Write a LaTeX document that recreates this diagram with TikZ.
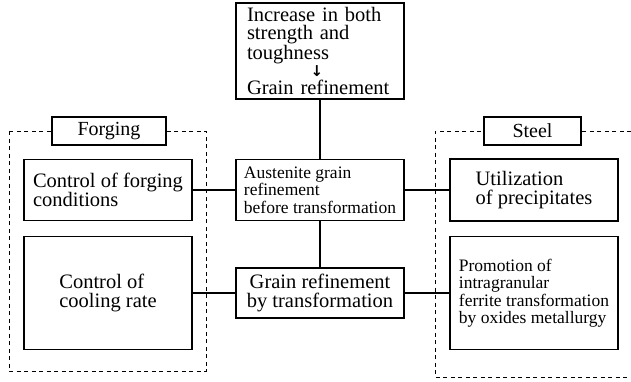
\documentclass[tikz,border=0pt]{standalone}
\usepackage{fontspec}
\setmainfont{Liberation Serif}
\newfontfamily\arrowfont{DejaVu Sans}

\tikzstyle{box}=[rectangle, draw, line width=1.2pt, minimum width=168pt, align=left, inner sep=2pt, font=\fontsize{20.5}{19}\selectfont]
\tikzstyle{smallbox}=[box, font=\fontsize{17.5}{17.5}\selectfont]
\tikzstyle{tag}=[rectangle, draw, line width=1.2pt, fill=white, minimum height=28pt, font=\fontsize{20}{20}\selectfont]
\tikzstyle{frame}=[line width=0.9pt, dash pattern=on 4pt off 3.5pt]

\begin{document}
\begin{tikzpicture}[x=1pt, y=-1pt]
\useasboundingbox (0,0) rectangle (631,381);

% dashed groups
\draw[frame] (9,131) rectangle (206,371);
\draw[frame] (631,131) -- (435,131) -- (435,377) -- (631,377);

\node[box, minimum height=96pt, text width=146pt, font=\fontsize{20.5}{17.5}\selectfont](goal) at (320,51) {Increase in both\\ strength and\\ toughness\\ \makebox[140pt]{\arrowfont\bfseries\fontsize{15}{15}\selectfont ↓}\\ Grain refinement};
\node[smallbox, minimum height=61pt](aust) at (320,190) {Austenite grain\\ refinement\\ before transformation};
\node[box, minimum height=50pt, align=center](grain) at (320,293) {Grain refinement\\ by transformation};

\node[tag, minimum width=114pt](forging) at (109,131) {Forging};
\node[tag, minimum width=97pt](steel) at (532.5,131) {Steel};

\node[box, minimum height=61pt](cond) at (108,190) {Control of forging\\ conditions};
\node[box, minimum height=113pt](cool) at (108,293) {Control of\\ cooling rate};
\node[box, minimum height=62pt](util) at (534,190) {Utilization\\ of precipitates};
\node[smallbox, minimum height=113pt](promo) at (534,293) {Promotion of\\ intragranular\\ ferrite transformation\\ by oxides metallurgy};

\begin{scope}[every path/.style={line width=1.2pt}]
       \draw (goal) -- (aust);
       \draw (aust) -- (grain);
       \draw (cond) -- (aust);
       \draw (aust) -- (util);
       \draw (cool) -- (grain);
       \draw (grain) -- (promo);
\end{scope}
\end{tikzpicture}
\end{document}
